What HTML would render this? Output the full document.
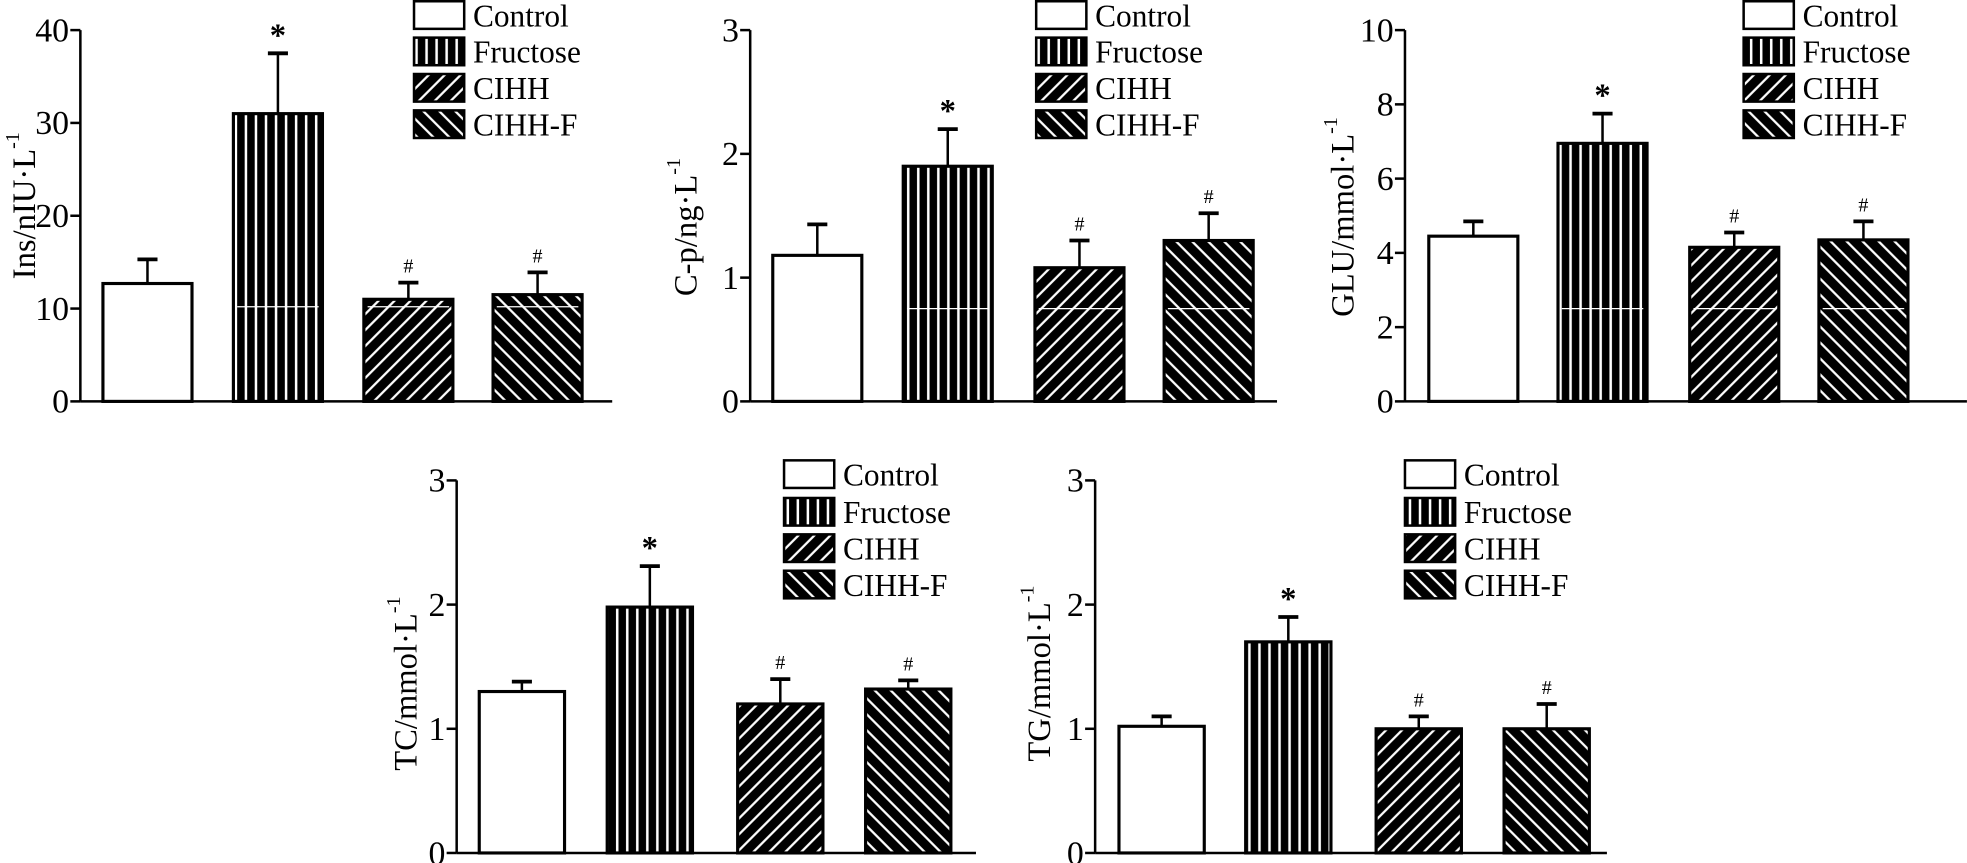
<!DOCTYPE html>
<html><head><meta charset="utf-8">
<style>
html,body{margin:0;padding:0;background:#fff;}
svg{display:block;font-family:"Liberation Serif",serif;}
</style></head>
<body>
<svg id="fig" width="1967" height="863" viewBox="0 0 1568 688" xmlns="http://www.w3.org/2000/svg">
<defs>
<pattern id="pVert" patternUnits="userSpaceOnUse" width="8" height="8"><rect width="8" height="8" fill="#000"/><rect x="3" width="2" height="8" fill="#fff"/></pattern>
<pattern id="pDiagR" patternUnits="userSpaceOnUse" width="9" height="9" patternTransform="rotate(45)"><rect width="9" height="9" fill="#000"/><rect x="4" width="1.8" height="9" fill="#fff"/></pattern>
<pattern id="pDiagL" patternUnits="userSpaceOnUse" width="9" height="9" patternTransform="rotate(-45)"><rect width="9" height="9" fill="#000"/><rect x="4" width="1.8" height="9" fill="#fff"/></pattern>
</defs>
</svg>
<script>
const groups = ["Control","Fructose","CIHH","CIHH-F"];
const insValues = [12.7, 31.0, 11.0, 11.5];
const insErrors = [2.6, 6.5, 1.8, 2.4];
const cpValues = [1.18, 1.9, 1.08, 1.3];
const cpErrors = [0.25, 0.3, 0.22, 0.22];
const gluValues = [4.45, 6.95, 4.15, 4.35];
const gluErrors = [0.4, 0.8, 0.4, 0.5];
const tcValues = [1.3, 1.98, 1.2, 1.32];
const tcErrors = [0.08, 0.33, 0.2, 0.07];
const tgValues = [1.02, 1.7, 1.0, 1.0];
const tgErrors = [0.08, 0.2, 0.1, 0.2];
const insTicks = [0,10,20,30,40];
const smallTicks = [0,1,2,3];
const gluTicks = [0,2,4,6,8,10];
const marks = ["","*","#","#"];

const NS = "http://www.w3.org/2000/svg";
const svg = document.getElementById("fig");
const fills = ["#fff","url(#pVert)","url(#pDiagR)","url(#pDiagL)"];
function el(tag, attrs, parent, txt){
  const e = document.createElementNS(NS, tag);
  for (const k in attrs) e.setAttribute(k, attrs[k]);
  if (txt !== undefined) e.textContent = txt;
  (parent||svg).appendChild(e);
  return e;
}

const charts = [
 {id:"ins", vals:insValues, errs:insErrors, ticks:insTicks, ax:64, top:24, bot:320, end:488, bx:[82,186,290,393], bw:71, lx:330, ly:[12,41,70,99], title:"Ins/nIU·L", tx:19, ty:164, art:10.2},
 {id:"cp", vals:cpValues, errs:cpErrors, ticks:smallTicks, ax:598, top:24, bot:320, end:1018, bx:[616,720,825,928], bw:71, lx:826, ly:[12,41,70,99], title:"C-p/ng·L", tx:546, ty:181, art:0.75},
 {id:"glu", vals:gluValues, errs:gluErrors, ticks:gluTicks, ax:1120, top:24, bot:320, end:1568, bx:[1139,1242,1347,1450], bw:71, lx:1390, ly:[12,41,70,99], title:"GLU/mmol·L", tx:1070, ty:173, art:2.5},
 {id:"tc", vals:tcValues, errs:tcErrors, ticks:smallTicks, ax:364, top:383, bot:680, end:778, bx:[382,484,588,690], bw:68, lx:625, ly:[378,408,437,466], title:"TC/mmol·L", tx:323, ty:545, art:null},
 {id:"tg", vals:tgValues, errs:tgErrors, ticks:smallTicks, ax:873, top:383, bot:680, end:1281, bx:[892,993,1097,1199], bw:68, lx:1120, ly:[378,408,437,466], title:"TG/mmol·L", tx:828, ty:537, art:null}
];

charts.forEach(c=>{
  const g = el("g",{});
  
  
  const max = c.ticks[c.ticks.length-1];
  const y = v => c.bot - (v/max)*(c.bot-c.top);
  const ya = el("line",{x1:c.ax,y1:c.top,x2:c.ax,y2:c.bot,stroke:"#000","stroke-width":2},g);
  
  
  const xa = el("line",{x1:c.ax,y1:c.bot,x2:c.end,y2:c.bot,stroke:"#000","stroke-width":2},g);
  
  
  c.ticks.forEach(t=>{
    el("line",{x1:c.ax-8,y1:y(t),x2:c.ax,y2:y(t),stroke:"#000","stroke-width":2},g);
    const tl = el("text",{x:c.ax-9,y:y(t)+9,"text-anchor":"end","font-size":27},g,String(t));
    
    
  });
  const tt = el("text",{transform:`translate(${c.tx+9},${c.ty}) rotate(-90)`,"text-anchor":"middle","font-size":26},g);
  
  
  el("tspan",{},tt,c.title);
  el("tspan",{dy:-13,"font-size":16},tt,"-1");
  c.vals.forEach((v,i)=>{
    const x = c.bx[i], cx = x + c.bw/2, ytop = y(v), ye = y(v + c.errs[i]);
    el("line",{x1:cx,y1:ytop,x2:cx,y2:ye,stroke:"#000","stroke-width":2},g);
    el("line",{x1:cx-8,y1:ye,x2:cx+8,y2:ye,stroke:"#000","stroke-width":3},g);
    const b = el("rect",{x:x,y:ytop,width:c.bw,height:c.bot-ytop,fill:fills[i],stroke:"#000","stroke-width":2.5},g);
    
    
    if (c.art !== null && i>0) el("line",{x1:x+3,y1:y(c.art),x2:x+c.bw-3,y2:y(c.art),stroke:"#fff","stroke-width":1},g);
    if (marks[i]) {
      const m = el("text",{x:cx,y:ye-(marks[i]==="*"?6:8),"text-anchor":"middle","font-size":marks[i]==="*"?26:16,"font-weight":marks[i]==="*"?"bold":"normal"},g,marks[i]);
      
      
    }
  });
  groups.forEach((gname,i)=>{
    const ly = c.ly[i];
    const sw = el("rect",{x:c.lx,y:ly-11,width:40,height:22,fill:fills[i],stroke:"#000","stroke-width":2},g);
    
    
    const lt = el("text",{x:c.lx+47,y:ly+9,"font-size":25},g,gname);
    
    
  });
});
</script>
</body></html>
